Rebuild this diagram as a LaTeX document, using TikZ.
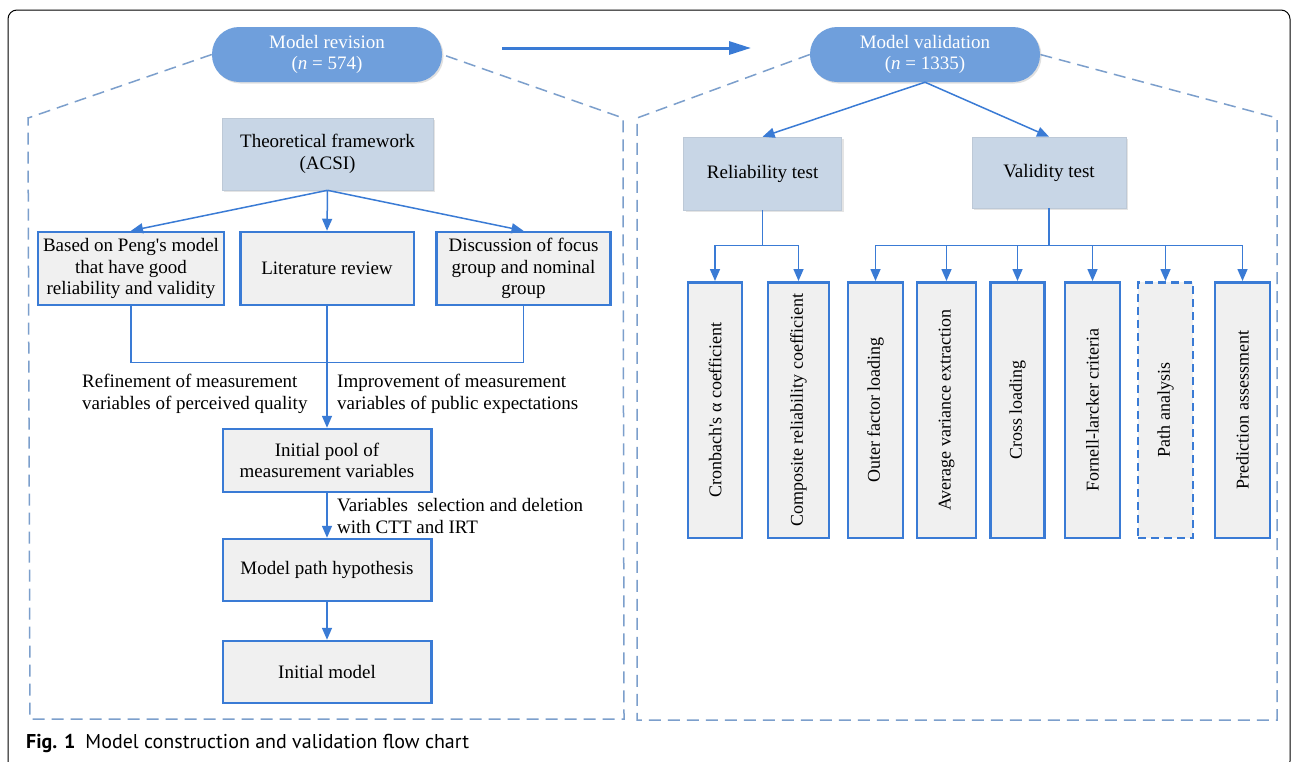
\documentclass[tikz,border=0pt]{standalone}
\usepackage{fontspec}
\setmainfont{Liberation Serif}
\newfontfamily\capfont{PT Sans}
\usetikzlibrary{arrows.meta,shadows}
\definecolor{bblue}{HTML}{3A7BD5}
\definecolor{pillblue}{HTML}{6F9FDC}
\definecolor{lightbox}{HTML}{C8D6E6}
\definecolor{graybox}{HTML}{F0F0F0}
\definecolor{dashblue}{HTML}{7C9FCC}
\tikzset{
  txt/.style={font=\fontsize{19}{21.7}\selectfont},
  vtxt/.style={font=\fontsize{18}{21.7}\selectfont},
  pill/.style={rounded corners=27pt, fill=pillblue, text=white, minimum width=230, minimum height=55, align=center, txt, inner sep=0pt,
     drop shadow={shadow xshift=1.5pt, shadow yshift=-1.5pt, fill=black!20, opacity=0.6}},
  lbox/.style={fill=lightbox, draw=lightbox!85!gray, line width=0.6, align=center, txt, inner sep=0pt,
     drop shadow={shadow xshift=2pt, shadow yshift=-2pt, fill=black!15, opacity=0.7}},
  gbox/.style={fill=graybox, draw=bblue, line width=2.5, align=center, txt, inner sep=0pt},
  vbox/.style={gbox, minimum height=255.5},
  vtext/.style={rotate=90, vtxt, inner sep=0pt},
  conn/.style={draw=bblue, line width=1.5},
  arr/.style={conn, -{Triangle[length=12pt,width=10pt]}},
  bigarrow/.style={draw=bblue, line width=3, -{Triangle[length=22pt,width=13pt]}},
  region/.style={draw=dashblue, line width=1.5, dash pattern=on 12pt off 7pt},
  lab/.style={txt, align=left, anchor=west, inner sep=0pt}
}
\begin{document}
\begin{tikzpicture}[x=1pt,y=-1pt]
\useasboundingbox (0,0) rectangle (1292,761);
\clip (0,0) rectangle (1292,761);
\fill[white] (0,0) rectangle (1292,761);
% outer frame
\draw[line width=1, rounded corners=9] (8,10) rectangle (1290,770);

% header pills
\node[pill] (rev) at (327,54.5) {Model revision\\(\textit{n} = 574)};
\node[pill] (val) at (925,54.5) {Model validation\\(\textit{n} = 1335)};

% dashed regions
\draw[region] (rev.west) -- (28,118) -- (30,719) -- (624,719) -- (623,118) -- (rev.east);
\draw[region] (val.west) -- (637,118) -- (637,720) -- (1277,720) -- (1277,118) -- (val.east);

% big arrow
\coordinate (arrS) at (502,48);
\coordinate (arrE) at (751,48);
\draw[bigarrow] (arrS) -- (arrE);

% left part
\node[lbox, minimum width=211, minimum height=72] (theo) at (327.5,154) {Theoretical framework\\(ACSI)};
\node[gbox, minimum width=186, minimum height=73] (b1) at (131,268.5) {Based on Peng\textquotesingle s model\\that have good\\reliability and validity};
\node[gbox, minimum width=173.5, minimum height=73] (b2) at (327,268.5) {Literature review};
\node[gbox, minimum width=174, minimum height=73] (b3) at (523.5,268.5) {Discussion of focus\\group and nominal\\group};
\draw[arr] (theo.south) -- (b1.north);
\draw[arr] (theo.south) -- (b2.north);
\draw[arr] (theo.south) -- (b3.north);

\node[gbox, minimum width=208.5, minimum height=63] (pool) at (327,460.5) {Initial pool of\\measurement variables};
\node[gbox, minimum width=208.5, minimum height=62] (path) at (327,570) {Model path hypothesis};
\node[gbox, minimum width=208.5, minimum height=62] (init) at (327,672) {Initial model};

\draw[conn] (b1.south) -- ++(0,56) -| (b3.south);
\draw[arr] (b2.south) -- (pool.north);
\draw[arr] (pool.south) -- (path.north);
\draw[arr] (path.south) -- (init.north);

\node[lab] (l1) at (82,394) {Refinement of measurement\\variables of perceived quality};
\node[lab] (l2) at (337,394) {Improvement of measurement\\variables of public expectations};
\node[lab] (l3) at (337,516) {Variables\ \ selection and deletion\\with CTT and IRT};

% right part
\node[lbox, minimum width=158, minimum height=73] (rel) at (762.6,173.5) {Reliability test};
\node[lbox, minimum width=154, minimum height=71] (vt) at (1049,172.5) {Validity test};
\draw[arr] (val.south) -- (rel.north);
\draw[arr] (val.south) -- (vt.north);

\node[vbox, minimum width=54, label={[vtext]center:Cronbach\textquotesingle s α coefficient}] (v1) at (715,410) {};
\node[vbox, minimum width=61, label={[vtext]center:Composite reliability coefficient}] (v2) at (798.5,410) {};
\node[vbox, minimum width=55, label={[vtext]center:Outer\ factor\ loading}] (v3) at (875.5,410) {};
\node[vbox, minimum width=59, label={[vtext]center:Average variance extraction}] (v4) at (946.5,410) {};
\node[vbox, minimum width=54, label={[vtext]center:Cross loading}] (v5) at (1017.5,410) {};
\node[vbox, minimum width=55, label={[vtext]center:Fornell-larcker criteria}] (v6) at (1092.5,410) {};
\node[vbox, minimum width=55, dash pattern=on 8pt off 5pt, label={[vtext]center:Path analysis}] (v7) at (1165.5,410) {};
\node[vbox, minimum width=55, label={[vtext]center:Prediction assessment}] (v8) at (1242.5,410) {};

\draw[conn] (rel.south) -- ++(0,35) coordinate (rj);
\draw[conn] (rj -| v1.north) -- (rj -| v2.north);
\foreach \v in {v1,v2} { \draw[arr] (rj -| \v.north) -- (\v.north); }

\draw[conn] (vt.south) -- ++(0,37) coordinate (vj);
\draw[conn] (vj -| v3.north) -- (vj -| v8.north);
\foreach \v in {v3,v4,v5,v6,v7,v8} { \draw[arr] (vj -| \v.north) -- (\v.north); }

% caption
\node[anchor=west, inner sep=0pt, font=\capfont\fontsize{20}{24}\selectfont] (cap) at (26,743) {\textbf{Fig. 1}\hspace{0.5em}Model construction and validation flow chart};
\end{tikzpicture}
\end{document}
